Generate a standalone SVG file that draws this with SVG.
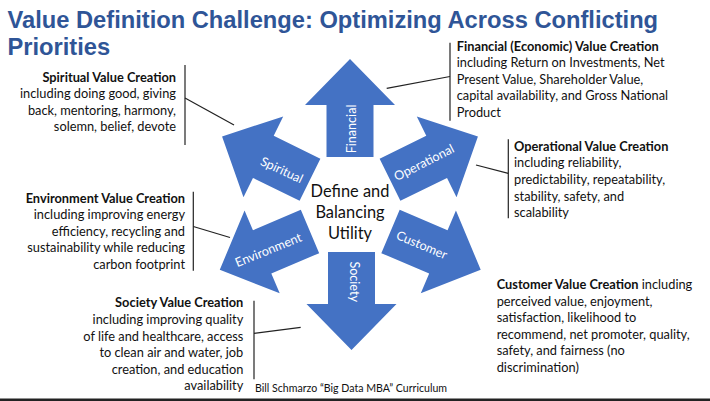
<svg xmlns="http://www.w3.org/2000/svg" xmlns:xlink="http://www.w3.org/1999/xlink" width="710" height="401" viewBox="0 0 710 401">
<defs>
<path id="arrow" d="M0,-23.5 H52 V-45 L98,0 L52,45 V23.5 H0 Z"/>
<style>
.arr{fill:#4472C4;}
.lbl{font-family:Lato,"Liberation Sans",sans-serif;font-size:12.6px;fill:#ffffff;text-anchor:middle;}
.ctr{font-family:Lato,"Liberation Sans",sans-serif;font-size:16.4px;fill:#111;text-anchor:middle;}
.txt{font-family:Lato,"Liberation Sans",sans-serif;font-size:12.8px;fill:#111;}
.b{font-weight:bold;}
.r{text-anchor:end;}
.ln{stroke:#222;stroke-width:1.2;fill:none;}
.title{font-family:"Liberation Sans",Arial,sans-serif;font-size:23.7px;font-weight:bold;fill:#2F5597;}
</style>
</defs>
<rect width="710" height="401" fill="#ffffff"/>
<g id="title">
<text class="title" x="7.5" y="27.5">Value Definition Challenge: Optimizing Across Conflicting</text>
<text class="title" x="7.5" y="55">Priorities</text>
</g>
<g id="connectors">
<line class="ln" x1="386.7" y1="88.3" x2="450" y2="76.5"/>
<line class="ln" x1="450" y1="42.7" x2="450" y2="120.7"/>
<line class="ln" x1="476" y1="165" x2="508.3" y2="173.3"/>
<line class="ln" x1="508.3" y1="139.3" x2="508.3" y2="218.3"/>
<line class="ln" x1="185" y1="98" x2="234" y2="125"/>
<line class="ln" x1="185" y1="65" x2="185" y2="145"/>
<line class="ln" x1="193.3" y1="226.5" x2="230" y2="237.5"/>
<line class="ln" x1="193.3" y1="191.7" x2="193.3" y2="270.7"/>
<line class="ln" x1="254" y1="333.3" x2="300.7" y2="327.3"/>
<line class="ln" x1="254" y1="300.7" x2="254" y2="379.3"/>
</g>
<g id="financial">
<use xlink:href="#arrow" class="arr" transform="translate(350,157) rotate(-90)"/>
<text class="lbl" transform="translate(355.5,129) rotate(-90)">Financial</text>
</g>
<g id="operational">
<use xlink:href="#arrow" class="arr" transform="translate(390,179.75) rotate(-26.2)"/>
<text class="lbl" transform="translate(426,166.5) rotate(-27)">Operational</text>
</g>
<g id="customer">
<use xlink:href="#arrow" class="arr" transform="translate(390.5,231.5) rotate(23)"/>
<text class="lbl" transform="translate(420,249) rotate(23)">Customer</text>
</g>
<g id="society">
<use xlink:href="#arrow" class="arr" transform="translate(351.5,252) rotate(90)"/>
<text class="lbl" transform="translate(349.5,281.7) rotate(90)">Society</text>
</g>
<g id="environment">
<use xlink:href="#arrow" class="arr" transform="translate(310,231.5) rotate(157)"/>
<text class="lbl" transform="translate(270,254) rotate(-22)">Environment</text>
</g>
<g id="spiritual">
<use xlink:href="#arrow" class="arr" transform="translate(310,179.75) rotate(206.2)"/>
<text class="lbl" transform="translate(280,174) rotate(25)">Spiritual</text>
</g>
<g id="center">
<text class="ctr" x="350" y="197">Define and</text>
<text class="ctr" x="350" y="218">Balancing</text>
<text class="ctr" x="350" y="239">Utility</text>
</g>
<g id="financial-text">
<text class="txt b" x="456.7" y="50.5">Financial (Economic) Value Creation</text>
<text class="txt" x="456.7" y="67">including Return on Investments, Net</text>
<text class="txt" x="456.7" y="83.6">Present Value, Shareholder Value,</text>
<text class="txt" x="456.7" y="100.2">capital availability, and Gross National</text>
<text class="txt" x="456.7" y="116.8">Product</text>
</g>
<g id="operational-text">
<text class="txt b" x="514" y="150.7">Operational Value Creation</text>
<text class="txt" x="514" y="167.3">including reliability,</text>
<text class="txt" x="514" y="183.9">predictability, repeatability,</text>
<text class="txt" x="514" y="200.5">stability, safety, and</text>
<text class="txt" x="514" y="217.1">scalability</text>
</g>
<g id="spiritual-text">
<text class="txt b r" x="176" y="81.5">Spiritual Value Creation</text>
<text class="txt r" x="176" y="98">including doing good, giving</text>
<text class="txt r" x="176" y="114.5">back, mentoring, harmony,</text>
<text class="txt r" x="176" y="131">solemn, belief, devote</text>
</g>
<g id="environment-text">
<text class="txt b r" x="185" y="202.5">Environment Value Creation</text>
<text class="txt r" x="185" y="219.1">including improving energy</text>
<text class="txt r" x="185" y="235.7">efficiency, recycling and</text>
<text class="txt r" x="185" y="252.3">sustainability while reducing</text>
<text class="txt r" x="185" y="268.9">carbon footprint</text>
</g>
<g id="society-text">
<text class="txt b r" x="243.3" y="307.3">Society Value Creation</text>
<text class="txt r" x="243.3" y="323.9">including improving quality</text>
<text class="txt r" x="243.3" y="340.5">of life and healthcare, access</text>
<text class="txt r" x="243.3" y="357.1">to clean air and water, job</text>
<text class="txt r" x="243.3" y="373.7">creation, and education</text>
<text class="txt r" x="243.3" y="390.3">availability</text>
</g>
<g id="customer-text">
<text class="txt" x="496.7" y="289"><tspan class="b">Customer Value Creation</tspan> including</text>
<text class="txt" x="496.7" y="305.6">perceived value, enjoyment,</text>
<text class="txt" x="496.7" y="322.2">satisfaction, likelihood to</text>
<text class="txt" x="496.7" y="338.8">recommend, net promoter, quality,</text>
<text class="txt" x="496.7" y="355.4">safety, and fairness (no</text>
<text class="txt" x="496.7" y="372">discrimination)</text>
</g>
<g id="footer">
<text class="txt" x="255" y="391.7" style="font-size:10.6px">Bill Schmarzo “Big Data MBA” Curriculum</text>
</g>
<rect x="0" y="398.5" width="710" height="2.5" fill="#222"/>
</svg>
